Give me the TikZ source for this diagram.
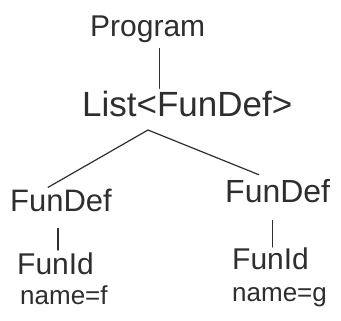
\documentclass[tikz,border=0pt]{standalone}
\usepackage{fontspec}
\setmainfont{Liberation Sans}
\definecolor{ink}{HTML}{2E2E2E}
\begin{document}
\begin{tikzpicture}[x=1pt,y=1pt,
  lbl/.style={anchor=base west,inner sep=0pt,text=ink},
  link/.style={draw=ink,line width=1.2pt,line cap=round}]
\useasboundingbox[fill=white] (0,0) rectangle (341,-321);
\node[lbl,font=\fontsize{30}{30}\selectfont] (prog) at (90,-37) {Program};
\node[lbl,font=\fontsize{35}{35}\selectfont] (lst) at (82,-117) {List<FunDef>};
\node[lbl,font=\fontsize{31}{31}\selectfont] (fd1) at (10,-212) {FunDef};
\node[lbl,font=\fontsize{32}{32}\selectfont] (fd2) at (225,-203) {FunDef};
\node[lbl,font=\fontsize{30}{30}\selectfont] (fi1) at (17,-275) {FunId};
\node[lbl,font=\fontsize{30}{30}\selectfont] (fi2) at (232,-270) {FunId};
\node[lbl,font=\fontsize{26}{26}\selectfont] (n1) at (20,-305) {name=f};
\node[lbl,font=\fontsize{26}{26}\selectfont] (n2) at (232,-302) {name=g};
\coordinate (apex) at (148,-130);
\draw[link] ([xshift=12pt,yshift=-5pt]prog.south) -- ([xshift=12pt,yshift=3pt]prog.south |- lst.north);
\draw[link] ([xshift=-13pt,yshift=2pt]fd1.north) -- (apex) -- ([xshift=-19pt,yshift=5pt]fd2.north);
\draw[link] ([xshift=-3pt,yshift=-16pt]fd1.south) -- ([xshift=-3pt,yshift=3pt]fd1.south |- fi1.north);
\draw[link] ([xshift=-5pt,yshift=-17pt]fd2.south) -- ([xshift=-5pt,yshift=1pt]fd2.south |- fi2.north);
\end{tikzpicture}
\end{document}
